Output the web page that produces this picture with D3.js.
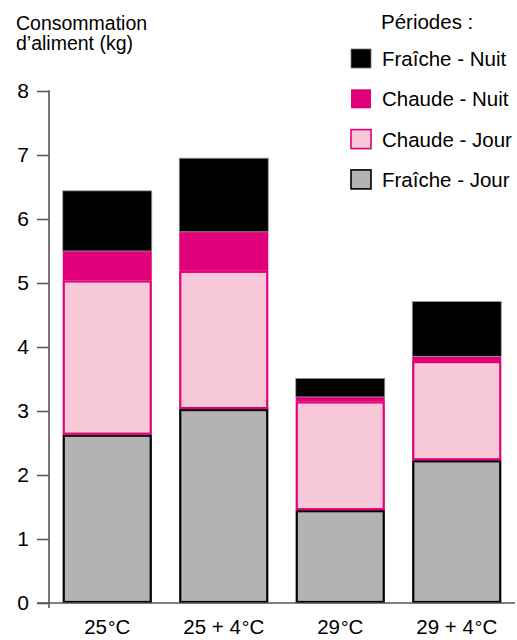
<!DOCTYPE html>
<html><head><meta charset="utf-8">
<script src="https://cdn.jsdelivr.net/npm/d3@7"></script>
<style>body{margin:0;background:#fff}svg{display:block}text{font-family:"Liberation Sans",Arial,sans-serif;fill:#000}</style>
</head><body>
<svg id="c" width="517" height="640"></svg>
<script>
const categories = ["25", "25 + 4", "29", "29 + 4"];
const fraicheJour = [2.63, 3.03, 1.45, 2.23];
const chaudeJour  = [2.41, 2.16, 1.70, 1.55];
const chaudeNuit  = [0.46, 0.61, 0.07, 0.07];
const fraicheNuit = [0.94, 1.15, 0.29, 0.86];
const yTicks = [0, 1, 2, 3, 4, 5, 6, 7, 8];
const seriesNames = ["Fraîche - Jour", "Chaude - Jour", "Chaude - Nuit", "Fraîche - Nuit"];
const legendOrder = ["Fraîche - Nuit", "Chaude - Nuit", "Chaude - Jour", "Fraîche - Jour"];
const fills = {"Fraîche - Jour":"#b3b3b3","Chaude - Jour":"#f7c8d7","Chaude - Nuit":"#e2007a","Fraîche - Nuit":"#000000"};
const strokes = {"Fraîche - Jour":"#000","Chaude - Jour":"#e2007a","Chaude - Nuit":"none","Fraîche - Nuit":"#999"};

const rows = categories.map((c,i)=>({cat:c,"Fraîche - Jour":fraicheJour[i],"Chaude - Jour":chaudeJour[i],"Chaude - Nuit":chaudeNuit[i],"Fraîche - Nuit":fraicheNuit[i]}));
const stacked = d3.stack().keys(seriesNames)(rows);

const svg = d3.select("#c");
const x = d3.scaleBand().domain(categories).range([49, 515]).paddingInner(0.236).paddingOuter(0.118);
const y = d3.scaleLinear().domain([0, 8]).range([603, 91]);

// bars
stacked.forEach(layer=>{
  const k = layer.key;
  const inset = (strokes[k]==="none"||k==="Fraîche - Nuit") ? 0 : 1;
  svg.append("g").selectAll("rect").data(layer).join("rect")
    .attr("x", d=> x(d.data.cat) + inset)
    .attr("width", d=> x.bandwidth() - 2*inset)
    .attr("y", d=> y(d[1]) + inset)
    .attr("height", d=> Math.max(0, y(d[0]) - y(d[1]) - 2*inset))
    .attr("fill", fills[k])
    .attr("stroke", strokes[k])
    .attr("stroke-width", k==="Fraîche - Nuit"?0.8:2.2);
});

// y axis
const yAxis = d3.axisLeft(y).tickValues(yTicks).tickSize(12).tickPadding(8).tickFormat(d3.format("d"));
const ga = svg.append("g").attr("transform","translate(49,0)").call(yAxis);
ga.select(".domain").remove();
ga.selectAll(".tick line").attr("stroke","#555").attr("stroke-width",1.5);
ga.selectAll(".tick text").attr("font-size",21).attr("font-family","Liberation Sans, Arial, sans-serif").attr("fill","#000");
svg.append("line").attr("x1",49).attr("x2",49).attr("y1",y(8)-0.75).attr("y2",608).attr("stroke","#555").attr("stroke-width",1.6);
svg.append("line").attr("x1",37).attr("x2",515).attr("y1",y(0)).attr("y2",y(0)).attr("stroke","#555").attr("stroke-width",1.5);

// x labels
const xl = svg.append("g").selectAll("text").data(categories).join("text")
  .attr("x", d=> x(d)+x.bandwidth()/2).attr("y",634).attr("text-anchor","middle").attr("font-size",20.5);
xl.append("tspan").text(d=>d);
xl.append("tspan").attr("dx",1).attr("font-size",19).text("°");
xl.append("tspan").text("C");

// y title
svg.append("text").attr("x",16).attr("y",30).attr("font-size",19.5).text("Consommation");
svg.append("text").attr("x",16).attr("y",50).attr("font-size",19.5).text("d’aliment (kg)");

// legend
svg.append("text").attr("x",381).attr("y",29).attr("font-size",20.5).text("Périodes :");
const lg = svg.append("g").selectAll("g").data(legendOrder).join("g")
  .attr("transform",(d,i)=>`translate(351,${49+i*40.3})`);
lg.append("rect").attr("width",20).attr("height",19)
  .attr("fill",d=>fills[d])
  .attr("stroke",d=> d==="Fraîche - Jour"?"#000": d==="Chaude - Jour"?"#e2007a": d==="Fraîche - Nuit"?"#777":"none")
  .attr("stroke-width",d=> d==="Fraîche - Nuit"?0.8:1.6);
lg.append("text").attr("x",31).attr("y",17).attr("font-size",20.5).text(d=>d);
</script>
</body></html>
